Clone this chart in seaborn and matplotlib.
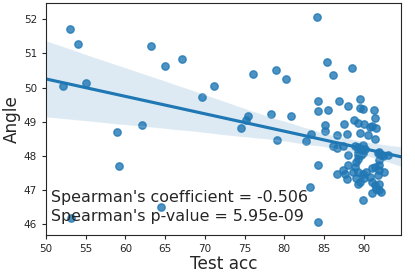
import pandas as pd
import seaborn as sns
import matplotlib.pyplot as plt

test_acc = [52.1, 53.0, 54.0, 55.0, 53.1, 58.97, 59.2, 62.1, 63.2, 64.5,
            65.0, 67.1, 69.6, 71.1, 74.5, 75.25, 75.5, 76.1, 78.3, 79.0,
            79.1, 80.2, 80.8, 82.8, 83.3, 83.4, 84.1, 84.2, 84.2, 84.2,
            84.2, 85.1, 85.2, 85.4, 85.5, 86.1, 86.2, 86.6, 86.6, 86.7,
            86.85, 87.4, 87.4, 87.5, 87.6, 87.95, 88.0, 88.0, 87.95, 88.0,
            88.6, 88.8, 88.7, 88.9, 88.9, 89.1, 89.1, 89.3, 89.3, 89.3,
            89.3, 89.3, 89.3, 89.3, 89.5, 89.5, 89.5, 89.5, 89.7, 89.7,
            89.9, 89.9, 89.9, 89.9, 89.9, 90.1, 90.1, 90.2, 90.3, 90.5,
            90.75, 90.75, 91.0, 91.0, 91.0, 91.0, 91.3, 91.4, 91.4, 91.5,
            91.5, 91.6, 91.6, 91.8, 91.8, 92.0, 92.0, 92.0, 92.0, 92.0,
            92.0, 92.2, 92.2, 92.4, 92.6, 93.1]
angle = [50.05, 51.71, 51.27, 50.14, 46.18, 48.70, 47.71, 48.90, 51.22, 46.50,
         50.64, 50.84, 49.71, 50.06, 48.83, 49.05, 49.16, 50.39, 49.22, 50.51,
         48.46, 50.26, 49.16, 48.43, 47.10, 48.65, 52.08, 49.60, 49.31, 47.74,
         46.07, 48.74, 48.89, 50.75, 49.34, 50.37, 48.30, 48.24, 48.61, 47.48,
         49.60, 48.28, 47.58, 48.94, 47.48, 48.64, 49.47, 48.02, 47.32, 47.73,
         50.58, 49.05, 47.53, 48.28, 47.68, 47.82, 47.34, 48.25, 48.02, 47.92,
         47.53, 47.19, 48.12, 48.95, 49.66, 49.41, 48.66, 47.24, 48.19, 48.02,
         49.37, 48.31, 48.07, 47.48, 46.71, 48.92, 47.34, 48.20, 47.53, 48.61,
         48.85, 47.38, 48.87, 47.63, 47.24, 46.90, 49.34, 47.68, 47.14, 49.10,
         48.48, 48.82, 47.04, 48.07, 47.43, 48.12, 47.87, 47.73, 47.58, 47.19,
         47.00, 48.02, 46.94, 47.99, 47.53, 48.02]

coef_text = "Spearman's coefficient = -0.506"
pval_text = "Spearman's p-value = 5.95e-09"

df = pd.DataFrame({'Test acc': test_acc, 'Angle': angle})
sns.set_style('ticks')

fig = plt.figure(figsize=(4.15, 2.73), dpi=100)
ax = fig.add_axes([0.111, 0.139, 0.855, 0.849])
sns.regplot(data=df, x='Test acc', y='Angle', ax=ax, truncate=False, seed=0,
            scatter_kws={'s': 28})
ax.set_xlim(50, 94.7)
ax.set_ylim(45.68, 52.47)
ax.set_xticks([50, 55, 60, 65, 70, 75, 80, 85, 90])
ax.tick_params(labelsize=7.5, length=3, width=0.8)
ax.set_xlabel('Test acc', fontsize=12.2, labelpad=1)
ax.set_ylabel('Angle', fontsize=12.2, labelpad=2)
for s in ax.spines.values():
    s.set_linewidth(0.8)
# two annotation lines, placed by baseline
ax.text(0.014, 0.142, coef_text, transform=ax.transAxes, fontsize=11.4, va='baseline')
ax.text(0.014, 0.062, pval_text, transform=ax.transAxes, fontsize=11.4, va='baseline')

fig.savefig('out.png', dpi=100)
